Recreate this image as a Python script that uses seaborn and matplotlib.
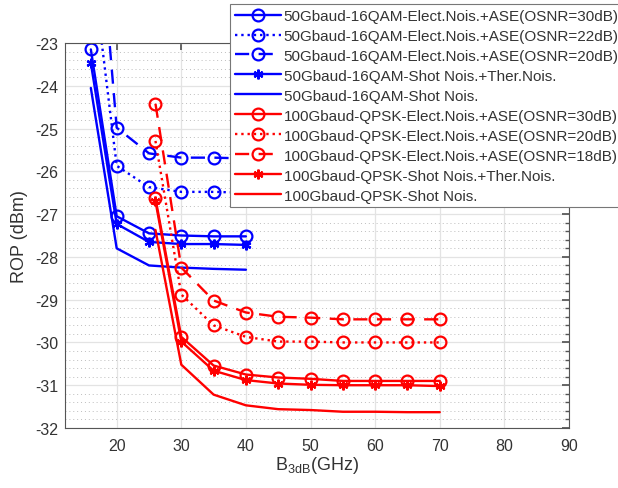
import numpy as np
import pandas as pd
import matplotlib
matplotlib.use("Agg")
import matplotlib.pyplot as plt
from matplotlib.ticker import MultipleLocator
import seaborn as sns

# bandwidth points (GHz)
x_blue = [16, 20, 25, 30, 35, 40]
x_red = [26, 30, 35, 40, 45, 50, 55, 60, 65, 70]

# 50Gbaud-16QAM curves, ROP in dBm
b_osnr30 = [-23.15, -27.05, -27.45, -27.5, -27.52, -27.52]
b_osnr22 = [-20.9, -25.87, -26.37, -26.48, -26.48, -26.5]
b_osnr20 = [-17.8, -24.98, -25.58, -25.68, -25.68, -25.7]
b_shot_ther = [-23.47, -27.23, -27.65, -27.7, -27.7, -27.72]
b_shot = [-24.05, -27.8, -28.2, -28.25, -28.28, -28.3]

# 100Gbaud-QPSK curves
r_osnr30 = [-26.63, -29.87, -30.54, -30.75, -30.82, -30.85, -30.9, -30.9, -30.9, -30.9]
r_osnr20 = [-25.29, -28.88, -29.6, -29.87, -29.98, -29.98, -30.0, -30.0, -30.0, -30.0]
r_osnr18 = [-24.42, -28.25, -29.02, -29.3, -29.4, -29.42, -29.46, -29.46, -29.46, -29.46]
r_shot_ther = [-26.7, -29.98, -30.66, -30.88, -30.96, -30.99, -31.0, -31.0, -31.0, -31.02]
r_shot = [-27.37, -30.52, -31.22, -31.47, -31.56, -31.58, -31.62, -31.62, -31.63, -31.63]

labels = [
    "50Gbaud-16QAM-Elect.Nois.+ASE(OSNR=30dB)",
    "50Gbaud-16QAM-Elect.Nois.+ASE(OSNR=22dB)",
    "50Gbaud-16QAM-Elect.Nois.+ASE(OSNR=20dB)",
    "50Gbaud-16QAM-Shot Nois.+Ther.Nois.",
    "50Gbaud-16QAM-Shot Nois.",
    "100Gbaud-QPSK-Elect.Nois.+ASE(OSNR=30dB)",
    "100Gbaud-QPSK-Elect.Nois.+ASE(OSNR=20dB)",
    "100Gbaud-QPSK-Elect.Nois.+ASE(OSNR=18dB)",
    "100Gbaud-QPSK-Shot Nois.+Ther.Nois.",
    "100Gbaud-QPSK-Shot Nois.",
]

sns.set_theme(style="whitegrid")
plt.rcParams["font.family"] = ["Liberation Sans", "DejaVu Sans"]
plt.rcParams["axes.unicode_minus"] = False
plt.rcParams["mathtext.fontset"] = "custom"
plt.rcParams["mathtext.rm"] = "Liberation Sans"
plt.rcParams["mathtext.default"] = "regular"

fig = plt.figure(figsize=(6.18, 4.89), dpi=100)
ax = fig.add_axes([65 / 618, 1 - 429 / 489, 504 / 618, 385 / 489])

series = [
    (x_blue, b_osnr30, "blue", "-", "o"),
    (x_blue, b_osnr22, "blue", ":", "o"),
    (x_blue, b_osnr20, "blue", (0, (6, 4)), "o"),
    (x_blue, b_shot_ther, "blue", "-", (6, 2, 0)),
    (x_blue, b_shot, "blue", "-", None),
    (x_red, r_osnr30, "red", "-", "o"),
    (x_red, r_osnr20, "red", ":", "o"),
    (x_red, r_osnr18, "red", (0, (6, 4)), "o"),
    (x_red, r_shot_ther, "red", "-", (6, 2, 0)),
    (x_red, r_shot, "red", "-", None),
]

handles = []
for (xs, ys, col, ls, mk), lab in zip(series, labels):
    df = pd.DataFrame({"x": xs, "y": ys})
    sns.lineplot(data=df, x="x", y="y", ax=ax, color=col, linestyle=ls,
                 marker=mk, markersize=8.5 if mk == "o" else 7,
                 markerfacecolor="none" if mk == "o" else col,
                 markeredgecolor=col, markeredgewidth=1.6,
                 linewidth=1.7, label=lab, sort=False, estimator=None)
    handles.append(ax.lines[-1])

ax.set_xlim(12, 90)
ax.set_ylim(-32, -23)
ax.xaxis.set_major_locator(MultipleLocator(10))
ax.yaxis.set_major_locator(MultipleLocator(1))
ax.yaxis.set_minor_locator(MultipleLocator(0.2))

ax.grid(True, which="major", color="#e3e3e3", linewidth=0.9, linestyle="-")
ax.grid(True, which="minor", axis="y", color="#bdbdbd", linewidth=0.7, linestyle=(0, (1, 3)))
ax.set_axisbelow(True)

for sp in ax.spines.values():
    sp.set_visible(True)
    sp.set_color("#555555")
    sp.set_linewidth(0.8)

ax.tick_params(which="both", direction="in", top=True, right=True,
               colors="#555555", labelcolor="#333333", labelsize=11.5)
ax.tick_params(which="major", length=5)
ax.tick_params(which="minor", length=3)
ax.tick_params(axis="x", which="major", pad=7)
ax.tick_params(axis="y", which="major", pad=5)
ax.tick_params(axis="x", which="minor", bottom=False, top=False)

ax.set_xlabel(r"B$_{3dB}$(GHz)", fontsize=13, color="#333333", labelpad=1)
ax.set_ylabel("ROP (dBm)", fontsize=13, color="#333333", labelpad=5)

leg = ax.legend(handles=handles, labels=labels, loc="upper left",
                bbox_to_anchor=(230 / 618, 1 - 5 / 489), bbox_transform=fig.transFigure,
                fontsize=11, frameon=True, fancybox=False, framealpha=1,
                edgecolor="#777777", borderaxespad=0, borderpad=0.32,
                labelspacing=0.39, handlelength=3.0, handletextpad=0.2, numpoints=1)
leg.get_frame().set_linewidth(0.8)
for t in leg.get_texts():
    t.set_color("#333333")

fig.savefig("out.png", dpi=100)
